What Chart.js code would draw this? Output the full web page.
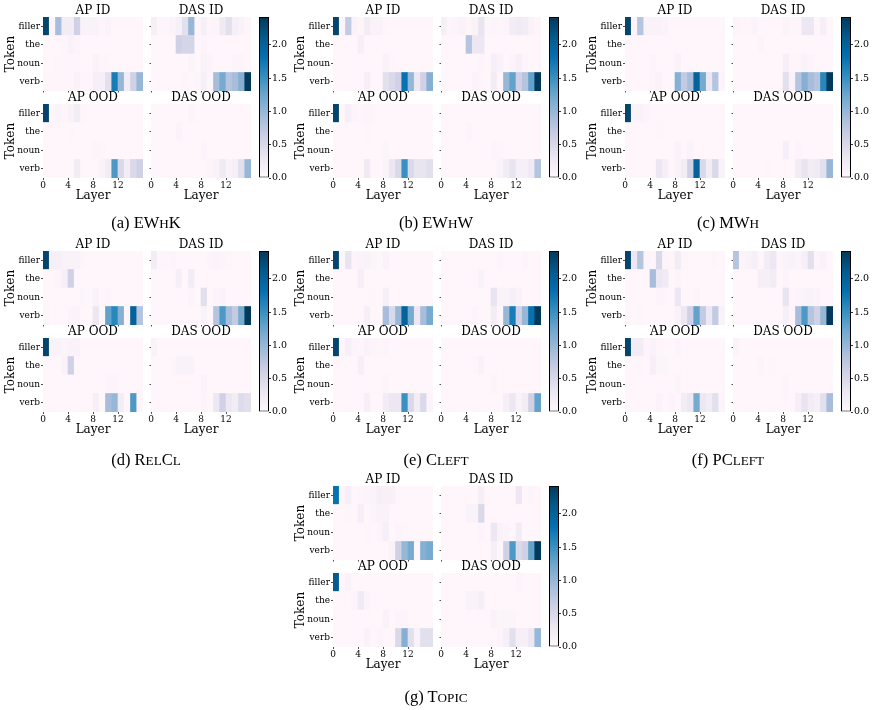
<!DOCTYPE html>
<html>
<head>
<meta charset="utf-8">
<script src="https://cdn.jsdelivr.net/npm/chart.js@4.4.1/dist/chart.umd.min.js"></script>
<style>
  body { margin: 0; background: #fff; width: 876px; height: 710px; overflow: hidden; position: relative; }
  canvas { position: absolute; }
  .cap { position: absolute; width: 292px; text-align: center; font-family: 'Liberation Serif', serif; font-size: 16.5px; line-height: 20px; color: #000; }
  .sc { font-size: 0.8em; text-transform: uppercase; }
</style>
</head>
<body>
<script>
// Interchange-intervention heatmaps (token x layer), PuBu colour scale
const layers = [0, 1, 2, 3, 4, 5, 6, 7, 8, 9, 10, 11, 12, 13, 14, 15];
const tokens = ["filler", "the", "noun", "verb"];
const layerTicks = [0, 4, 8, 12];
const cbarTicks = [0, 0.5, 1.0, 1.5, 2.0];
const mapTitles = ["AP ID", "DAS ID", "AP OOD", "DAS OOD"];
const VMAX = 2.42;

// (a) EWhK
const ewhkApId = [
  [2.30,0.05,0.90,0.20,0.20,0.60,0.10,0.10,0.10,0.03,0.08,0.02,0.02,0.02,0.02,0.02],
  [0.02,0.02,0.02,0.03,0.10,0.05,0.02,0.02,0.02,0.02,0.02,0.02,0.02,0.02,0.02,0.02],
  [0.02,0.02,0.03,0.03,0.03,0.03,0.02,0.02,0.10,0.03,0.03,0.02,0.02,0.02,0.02,0.02],
  [0.03,0.03,0.03,0.03,0.03,0.10,0.03,0.03,0.15,0.15,0.40,1.70,1.00,0.20,0.60,1.00]
];
const ewhkDasId = [
  [0.15,0.03,0.03,0.08,0.15,0.40,1.00,0.03,0.15,0.03,0.05,0.25,0.40,0.15,0.10,0.03],
  [0.02,0.02,0.02,0.02,0.60,0.55,0.55,0.02,0.05,0.02,0.02,0.02,0.02,0.02,0.02,0.02],
  [0.02,0.02,0.02,0.02,0.02,0.02,0.06,0.02,0.10,0.05,0.02,0.02,0.02,0.05,0.05,0.02],
  [0.02,0.02,0.02,0.02,0.02,0.03,0.02,0.03,0.15,0.03,0.90,1.20,0.80,0.90,1.10,2.40]
];
const ewhkApOod = [
  [2.30,0.02,0.08,0.03,0.10,0.20,0.03,0.02,0.02,0.02,0.02,0.02,0.02,0.02,0.02,0.02],
  [0.02,0.02,0.02,0.02,0.04,0.02,0.02,0.02,0.02,0.02,0.02,0.02,0.02,0.02,0.02,0.02],
  [0.02,0.02,0.02,0.02,0.02,0.02,0.02,0.02,0.06,0.03,0.02,0.02,0.02,0.02,0.02,0.02],
  [0.02,0.02,0.02,0.02,0.02,0.20,0.02,0.02,0.02,0.10,0.20,1.40,0.50,0.20,0.50,0.60]
];
const ewhkDasOod = [
  [0.02,0.02,0.02,0.02,0.02,0.02,0.06,0.02,0.02,0.02,0.02,0.02,0.02,0.02,0.02,0.02],
  [0.02,0.02,0.02,0.02,0.08,0.02,0.02,0.02,0.02,0.02,0.02,0.02,0.02,0.02,0.02,0.02],
  [0.02,0.02,0.02,0.02,0.02,0.02,0.02,0.02,0.05,0.02,0.02,0.02,0.02,0.02,0.02,0.02],
  [0.02,0.02,0.02,0.02,0.02,0.02,0.02,0.02,0.02,0.05,0.10,0.25,0.10,0.15,0.40,1.00]
];

// (b) EWhW
const ewhwApId = [
  [2.30,0.05,0.70,0.10,0.03,0.20,0.10,0.10,0.03,0.02,0.02,0.02,0.02,0.02,0.02,0.02],
  [0.02,0.02,0.02,0.02,0.15,0.02,0.02,0.02,0.02,0.02,0.02,0.02,0.02,0.02,0.02,0.02],
  [0.02,0.02,0.02,0.02,0.02,0.02,0.02,0.02,0.10,0.03,0.02,0.02,0.02,0.02,0.02,0.02],
  [0.02,0.02,0.02,0.02,0.02,0.15,0.02,0.02,0.40,0.50,0.60,1.80,1.00,0.30,0.60,1.10]
];
const ewhwDasId = [
  [0.15,0.03,0.05,0.10,0.03,0.10,0.35,0.03,0.05,0.03,0.05,0.20,0.25,0.20,0.10,0.03],
  [0.02,0.02,0.02,0.02,0.80,0.30,0.30,0.02,0.02,0.02,0.02,0.02,0.02,0.02,0.02,0.02],
  [0.02,0.02,0.02,0.02,0.02,0.02,0.05,0.02,0.15,0.10,0.02,0.05,0.15,0.05,0.02,0.02],
  [0.02,0.02,0.02,0.02,0.02,0.08,0.03,0.02,0.20,0.03,1.00,1.30,0.60,0.80,1.30,2.40]
];
const ewhwApOod = [
  [2.30,0.02,0.15,0.05,0.03,0.06,0.03,0.02,0.02,0.02,0.02,0.02,0.02,0.02,0.02,0.02],
  [0.02,0.02,0.02,0.02,0.02,0.03,0.02,0.02,0.02,0.02,0.02,0.02,0.02,0.02,0.02,0.02],
  [0.02,0.02,0.02,0.02,0.02,0.02,0.02,0.02,0.06,0.02,0.02,0.02,0.02,0.02,0.02,0.02],
  [0.02,0.02,0.02,0.02,0.02,0.25,0.02,0.02,0.08,0.30,0.50,1.50,0.50,0.35,0.35,0.40]
];
const ewhwDasOod = [
  [0.02,0.02,0.02,0.02,0.02,0.02,0.02,0.02,0.02,0.02,0.02,0.02,0.02,0.02,0.02,0.02],
  [0.02,0.02,0.02,0.02,0.05,0.02,0.02,0.02,0.02,0.02,0.02,0.02,0.02,0.02,0.02,0.02],
  [0.02,0.02,0.02,0.02,0.02,0.02,0.02,0.02,0.05,0.03,0.02,0.02,0.02,0.02,0.02,0.02],
  [0.02,0.02,0.02,0.02,0.02,0.02,0.02,0.02,0.02,0.08,0.20,0.35,0.15,0.15,0.25,0.80]
];

// (c) MWh
const mwhApId = [
  [2.30,0.05,0.80,0.10,0.10,0.10,0.08,0.02,0.02,0.02,0.02,0.02,0.02,0.02,0.02,0.02],
  [0.02,0.02,0.02,0.02,0.02,0.02,0.02,0.02,0.02,0.02,0.02,0.02,0.02,0.02,0.02,0.02],
  [0.02,0.02,0.02,0.02,0.05,0.02,0.02,0.02,0.10,0.02,0.02,0.02,0.02,0.02,0.02,0.02],
  [0.02,0.02,0.02,0.02,0.06,0.10,0.02,0.02,1.10,0.70,0.90,2.00,1.20,0.30,0.80,0.05]
];
const mwhDasId = [
  [0.05,0.03,0.03,0.08,0.02,0.02,0.02,0.02,0.08,0.03,0.03,0.30,0.30,0.03,0.15,0.02],
  [0.02,0.02,0.02,0.02,0.06,0.02,0.02,0.02,0.02,0.02,0.02,0.02,0.02,0.02,0.02,0.02],
  [0.02,0.02,0.02,0.02,0.02,0.02,0.02,0.02,0.15,0.03,0.03,0.10,0.05,0.02,0.02,0.02],
  [0.02,0.02,0.02,0.02,0.02,0.02,0.02,0.02,0.40,0.10,0.80,1.10,0.90,0.80,1.60,2.40]
];
const mwhApOod = [
  [2.30,0.08,0.10,0.05,0.02,0.02,0.02,0.02,0.02,0.02,0.02,0.02,0.02,0.02,0.02,0.02],
  [0.02,0.02,0.02,0.02,0.02,0.03,0.02,0.02,0.02,0.02,0.02,0.02,0.02,0.02,0.02,0.02],
  [0.02,0.02,0.02,0.02,0.02,0.02,0.02,0.02,0.10,0.02,0.08,0.02,0.02,0.02,0.02,0.02],
  [0.02,0.02,0.02,0.02,0.02,0.30,0.15,0.02,0.10,0.20,0.60,2.00,0.50,0.20,0.50,0.10]
];
const mwhDasOod = [
  [0.02,0.02,0.02,0.02,0.02,0.02,0.02,0.02,0.02,0.02,0.02,0.02,0.02,0.02,0.02,0.02],
  [0.02,0.02,0.02,0.02,0.02,0.02,0.02,0.02,0.02,0.02,0.02,0.02,0.02,0.02,0.02,0.02],
  [0.02,0.02,0.02,0.02,0.02,0.02,0.02,0.02,0.15,0.02,0.05,0.02,0.02,0.02,0.02,0.02],
  [0.02,0.02,0.02,0.02,0.02,0.03,0.02,0.02,0.02,0.02,0.20,0.35,0.20,0.25,0.40,1.00]
];

// (d) RelCl
const relclApId = [
  [2.30,0.15,0.15,0.10,0.10,0.10,0.03,0.02,0.02,0.02,0.02,0.02,0.02,0.02,0.02,0.02],
  [0.02,0.02,0.05,0.15,0.60,0.02,0.02,0.02,0.02,0.02,0.02,0.02,0.02,0.02,0.02,0.02],
  [0.02,0.02,0.02,0.02,0.02,0.02,0.04,0.02,0.10,0.02,0.05,0.02,0.02,0.02,0.02,0.02],
  [0.04,0.02,0.02,0.02,0.05,0.08,0.02,0.02,0.30,0.02,1.30,1.60,1.10,0.03,2.00,0.80]
];
const relclDasId = [
  [0.20,0.03,0.03,0.05,0.02,0.02,0.02,0.02,0.02,0.05,0.08,0.05,0.03,0.02,0.02,0.02],
  [0.02,0.02,0.02,0.02,0.15,0.02,0.20,0.02,0.02,0.02,0.02,0.02,0.02,0.02,0.02,0.02],
  [0.02,0.02,0.02,0.02,0.02,0.02,0.05,0.02,0.40,0.02,0.05,0.08,0.02,0.02,0.02,0.02],
  [0.02,0.02,0.02,0.02,0.02,0.02,0.02,0.02,0.10,0.02,0.80,1.40,0.90,0.70,1.20,2.40]
];
const relclApOod = [
  [2.30,0.10,0.10,0.05,0.10,0.10,0.02,0.02,0.02,0.02,0.02,0.02,0.02,0.02,0.02,0.02],
  [0.02,0.02,0.02,0.10,0.60,0.02,0.02,0.02,0.02,0.02,0.02,0.02,0.02,0.02,0.02,0.02],
  [0.02,0.02,0.02,0.02,0.02,0.02,0.02,0.02,0.02,0.02,0.05,0.05,0.02,0.02,0.02,0.02],
  [0.02,0.02,0.02,0.02,0.02,0.02,0.02,0.02,0.15,0.02,0.90,1.00,0.20,0.02,1.40,0.03]
];
const relclDasOod = [
  [0.10,0.02,0.02,0.02,0.02,0.02,0.02,0.02,0.02,0.02,0.02,0.02,0.02,0.02,0.02,0.02],
  [0.02,0.02,0.02,0.03,0.10,0.10,0.10,0.02,0.02,0.02,0.02,0.02,0.02,0.02,0.02,0.02],
  [0.02,0.02,0.02,0.02,0.02,0.02,0.02,0.02,0.08,0.02,0.02,0.02,0.02,0.02,0.02,0.02],
  [0.02,0.02,0.02,0.02,0.02,0.02,0.02,0.02,0.05,0.02,0.30,0.60,0.30,0.20,0.45,0.40]
];

// (e) Cleft
const cleftApId = [
  [2.30,0.03,0.35,0.05,0.08,0.10,0.06,0.02,0.10,0.02,0.02,0.02,0.02,0.02,0.02,0.02],
  [0.02,0.02,0.02,0.02,0.15,0.02,0.02,0.02,0.02,0.02,0.02,0.02,0.02,0.02,0.02,0.02],
  [0.02,0.02,0.02,0.02,0.02,0.02,0.04,0.02,0.15,0.02,0.02,0.02,0.02,0.02,0.02,0.02],
  [0.02,0.02,0.02,0.02,0.02,0.15,0.02,0.02,0.90,0.50,1.00,2.00,1.20,0.30,0.90,1.20]
];
const cleftDasId = [
  [0.02,0.02,0.02,0.02,0.02,0.02,0.02,0.02,0.02,0.05,0.02,0.02,0.02,0.05,0.02,0.02],
  [0.02,0.02,0.02,0.02,0.02,0.03,0.10,0.02,0.02,0.02,0.02,0.02,0.02,0.02,0.02,0.02],
  [0.02,0.02,0.02,0.02,0.02,0.02,0.02,0.02,0.35,0.10,0.10,0.15,0.10,0.02,0.02,0.02],
  [0.02,0.02,0.02,0.02,0.02,0.05,0.02,0.02,0.20,0.03,1.00,1.70,0.60,1.00,1.80,2.40]
];
const cleftApOod = [
  [2.30,0.03,0.15,0.05,0.03,0.10,0.05,0.03,0.05,0.02,0.02,0.02,0.02,0.02,0.02,0.02],
  [0.02,0.02,0.02,0.02,0.15,0.02,0.02,0.02,0.02,0.02,0.02,0.02,0.02,0.02,0.02,0.02],
  [0.02,0.02,0.02,0.02,0.02,0.02,0.02,0.02,0.06,0.02,0.02,0.02,0.02,0.02,0.02,0.02],
  [0.02,0.02,0.02,0.02,0.02,0.15,0.02,0.02,0.20,0.30,0.30,1.50,0.50,0.20,0.50,0.05]
];
const cleftDasOod = [
  [0.02,0.02,0.02,0.02,0.02,0.02,0.02,0.02,0.02,0.02,0.02,0.02,0.02,0.02,0.02,0.02],
  [0.02,0.02,0.02,0.02,0.02,0.03,0.10,0.02,0.02,0.02,0.02,0.02,0.02,0.02,0.02,0.02],
  [0.02,0.02,0.02,0.02,0.02,0.02,0.02,0.02,0.06,0.02,0.02,0.02,0.02,0.02,0.02,0.02],
  [0.02,0.02,0.02,0.02,0.02,0.02,0.02,0.02,0.02,0.02,0.15,0.30,0.10,0.20,0.60,1.30]
];

// (f) PCleft
const pcleftApId = [
  [2.30,0.30,0.80,0.05,0.03,0.50,0.05,0.03,0.20,0.03,0.02,0.02,0.02,0.02,0.03,0.02],
  [0.02,0.02,0.02,0.02,0.90,0.30,0.25,0.02,0.06,0.02,0.02,0.02,0.02,0.02,0.02,0.02],
  [0.02,0.02,0.02,0.02,0.02,0.06,0.03,0.02,0.30,0.02,0.03,0.06,0.02,0.02,0.02,0.02],
  [0.04,0.02,0.04,0.02,0.02,0.02,0.02,0.02,0.10,0.30,0.60,1.30,0.70,0.30,0.70,0.10]
];
const pcleftDasId = [
  [0.80,0.05,0.10,0.15,0.03,0.20,0.30,0.03,0.08,0.10,0.05,0.15,0.40,0.05,0.10,0.02],
  [0.02,0.02,0.02,0.02,0.15,0.15,0.20,0.02,0.05,0.02,0.02,0.02,0.02,0.02,0.02,0.02],
  [0.02,0.02,0.02,0.02,0.02,0.02,0.02,0.02,0.35,0.03,0.05,0.08,0.10,0.08,0.02,0.02],
  [0.02,0.02,0.02,0.02,0.02,0.02,0.02,0.02,0.15,0.05,0.90,1.40,0.80,0.60,1.00,2.40]
];
const pcleftApOod = [
  [2.30,0.20,0.20,0.05,0.10,0.03,0.02,0.02,0.05,0.02,0.02,0.02,0.02,0.02,0.02,0.02],
  [0.02,0.02,0.03,0.02,0.15,0.06,0.06,0.02,0.02,0.02,0.02,0.02,0.02,0.02,0.02,0.02],
  [0.02,0.02,0.02,0.02,0.02,0.02,0.02,0.02,0.06,0.02,0.02,0.02,0.02,0.02,0.02,0.02],
  [0.02,0.02,0.02,0.02,0.02,0.08,0.02,0.05,0.02,0.20,0.30,1.20,0.30,0.20,0.40,0.05]
];
const pcleftDasOod = [
  [0.08,0.02,0.02,0.02,0.02,0.02,0.02,0.02,0.02,0.02,0.02,0.02,0.02,0.02,0.02,0.02],
  [0.02,0.02,0.02,0.02,0.06,0.02,0.03,0.02,0.02,0.02,0.02,0.02,0.02,0.02,0.02,0.02],
  [0.02,0.02,0.02,0.02,0.02,0.02,0.02,0.02,0.06,0.02,0.02,0.02,0.02,0.02,0.02,0.02],
  [0.02,0.02,0.02,0.02,0.02,0.02,0.02,0.02,0.03,0.02,0.15,0.35,0.20,0.15,0.40,0.90]
];

// (g) Topic
const topicApId = [
  [1.80,0.05,0.15,0.02,0.03,0.05,0.08,0.15,0.12,0.12,0.03,0.02,0.02,0.02,0.02,0.02],
  [0.02,0.02,0.04,0.02,0.15,0.02,0.05,0.10,0.10,0.02,0.02,0.02,0.02,0.02,0.02,0.02],
  [0.02,0.02,0.02,0.02,0.02,0.04,0.02,0.05,0.15,0.02,0.05,0.04,0.02,0.02,0.02,0.02],
  [0.02,0.02,0.02,0.02,0.02,0.02,0.02,0.02,0.02,0.10,0.60,1.00,1.20,0.03,1.10,1.20]
];
const topicDasId = [
  [0.02,0.02,0.02,0.02,0.02,0.02,0.15,0.02,0.02,0.02,0.02,0.02,0.30,0.02,0.05,0.02],
  [0.02,0.02,0.02,0.02,0.10,0.10,0.50,0.02,0.02,0.02,0.02,0.02,0.02,0.02,0.02,0.02],
  [0.02,0.02,0.02,0.02,0.02,0.02,0.05,0.02,0.30,0.10,0.05,0.02,0.20,0.02,0.02,0.02],
  [0.02,0.02,0.02,0.02,0.02,0.02,0.02,0.02,0.15,0.03,0.60,1.40,0.50,0.60,1.30,2.40]
];
const topicApOod = [
  [2.10,0.03,0.10,0.02,0.02,0.02,0.02,0.02,0.02,0.02,0.02,0.02,0.02,0.02,0.02,0.02],
  [0.02,0.02,0.02,0.05,0.25,0.08,0.02,0.02,0.02,0.02,0.02,0.02,0.02,0.02,0.02,0.02],
  [0.02,0.02,0.02,0.02,0.02,0.02,0.02,0.02,0.10,0.02,0.05,0.05,0.02,0.02,0.02,0.02],
  [0.02,0.02,0.02,0.02,0.02,0.10,0.02,0.05,0.02,0.02,0.50,1.10,0.40,0.10,0.40,0.40]
];
const topicDasOod = [
  [0.02,0.02,0.02,0.02,0.02,0.02,0.02,0.02,0.02,0.02,0.02,0.02,0.05,0.02,0.02,0.02],
  [0.02,0.02,0.02,0.02,0.10,0.10,0.15,0.02,0.02,0.02,0.02,0.02,0.02,0.02,0.02,0.02],
  [0.02,0.02,0.02,0.02,0.02,0.02,0.02,0.02,0.10,0.06,0.06,0.06,0.02,0.02,0.02,0.02],
  [0.02,0.02,0.02,0.02,0.02,0.02,0.02,0.02,0.02,0.05,0.15,0.40,0.15,0.15,0.30,1.00]
];

// sub-figure placement
const panels = [
  { cap: '(a) EW<span class="sc">h</span>K', ox: 0, oy: 0, capY: 223, maps: [ewhkApId, ewhkDasId, ewhkApOod, ewhkDasOod] },
  { cap: '(b) EW<span class="sc">h</span>W', ox: 290, oy: 0, capY: 223, maps: [ewhwApId, ewhwDasId, ewhwApOod, ewhwDasOod] },
  { cap: '(c) MW<span class="sc">h</span>', ox: 582, oy: 0, capY: 223, maps: [mwhApId, mwhDasId, mwhApOod, mwhDasOod] },
  { cap: '(d) R<span class="sc">el</span>C<span class="sc">l</span>', ox: 0, oy: 234, capY: 460, maps: [relclApId, relclDasId, relclApOod, relclDasOod] },
  { cap: '(e) C<span class="sc">left</span>', ox: 290, oy: 234, capY: 460, maps: [cleftApId, cleftDasId, cleftApOod, cleftDasOod] },
  { cap: '(f) PC<span class="sc">left</span>', ox: 582, oy: 234, capY: 460, maps: [pcleftApId, pcleftDasId, pcleftApOod, pcleftDasOod] },
  { cap: '(g) T<span class="sc">opic</span>', ox: 290, oy: 469, capY: 697, maps: [topicApId, topicDasId, topicApOod, topicDasOod] }
];

const MAP_W = 100, MAP_H = 74;
const PUBU = ["#fff7fb", "#ece7f2", "#d0d1e6", "#a6bddb", "#74a9cf", "#3690c0", "#0570b0", "#045a8d", "#023858"];

Chart.defaults.font.family = "'DejaVu Serif', serif";
Chart.defaults.color = "#000";

function hexRgb(h) {
  return [1, 3, 5].map(i => parseInt(h.slice(i, i + 2), 16));
}

function pubu(v) {
  const t = Math.max(0, Math.min(1, v / VMAX)) * (PUBU.length - 1);
  const i = Math.min(Math.floor(t), PUBU.length - 2);
  const f = t - i;
  const a = hexRgb(PUBU[i]), b = hexRgb(PUBU[i + 1]);
  const c = a.map((x, k) => Math.round(x + (b[k] - x) * f));
  return `rgb(${c[0]},${c[1]},${c[2]})`;
}

function addCanvas(left, top, w, h) {
  const cv = document.createElement("canvas");
  cv.width = w;
  cv.height = h;
  cv.style.left = left + "px";
  cv.style.top = top + "px";
  document.body.appendChild(cv);
  return cv;
}

function heatmap(values, title, x, y, showY, showX) {
  const padL = showY ? 43 : 8;
  const padT = 15;
  const padB = showX ? 26 : 8;
  const cv = addCanvas(x - padL, y - padT, padL + MAP_W, padT + MAP_H + padB);

  const points = [], colors = [];
  values.forEach((row, r) => {
    row.forEach((v, c) => {
      points.push({ x: layers[c] + 0.5, y: [r, r + 1] });
      colors.push(pubu(v));
    });
  });

  // tick marks only (no labels) on inner axes, as in the figure
  const tickLen = 1.5;

  new Chart(cv, {
    type: "bar",
    data: {
      datasets: [{
        data: points,
        backgroundColor: colors,
        borderWidth: 0,
        barPercentage: 1,
        categoryPercentage: 1
      }]
    },
    options: {
      responsive: false,
      animation: false,
      events: [],
      layout: { padding: 0 },
      plugins: {
        legend: { display: false },
        tooltip: { enabled: false },
        title: {
          display: true,
          fullSize: false,
          text: title,
          font: { size: 12, weight: "normal", lineHeight: 1 },
          padding: { top: 3, bottom: 0 },
          color: "#000"
        }
      },
      scales: {
        x: {
          type: "linear",
          min: 0,
          max: 16,
          offset: false,
          border: { display: false },
          grid: { offset: false, drawOnChartArea: false, tickLength: showX ? 2 : tickLen, color: "#222", lineWidth: 0.8 },
          afterBuildTicks: s => { s.ticks = layerTicks.map(v => ({ value: v })); },
          afterFit: s => { s.height = padB; },
          ticks: { display: showX, font: { size: 9 }, padding: 0, maxRotation: 0, autoSkip: false },
          title: { display: showX, text: "Layer", font: { size: 12 }, padding: { top: 0, bottom: 1 } }
        },
        y: {
          type: "linear",
          min: 0,
          max: 4,
          reverse: true,
          border: { display: false },
          grid: { drawOnChartArea: false, tickLength: showY ? 2 : tickLen, color: "#222", lineWidth: 0.8 },
          afterBuildTicks: s => { s.ticks = tokens.map((t, i) => ({ value: i + 0.5 })); },
          afterFit: s => { s.width = padL; },
          ticks: { display: showY, font: { size: 9 }, padding: 1, callback: (v, i) => tokens[i] },
          title: { display: showY, text: "Token", font: { size: 12 }, padding: { top: 4, bottom: 0 } }
        }
      }
    }
  });
}

function colorbar(x, y, h) {
  const padT = 8, padB = 8, axisW = 28, cbW = 10;
  const cv = addCanvas(x, y - padT, cbW + axisW, h + padT + padB);
  new Chart(cv, {
    type: "bar",
    data: {
      labels: [""],
      datasets: [{
        data: [[0, VMAX]],
        backgroundColor: ctx => {
          const area = ctx.chart.chartArea;
          if (!area) return PUBU[0];
          const g = ctx.chart.ctx.createLinearGradient(0, area.bottom, 0, area.top);
          PUBU.forEach((c, i) => g.addColorStop(i / (PUBU.length - 1), c));
          return g;
        },
        borderColor: "#000",
        borderWidth: 1,
        borderSkipped: false,
        inflateAmount: 0,
        barPercentage: 1,
        categoryPercentage: 1
      }]
    },
    options: {
      responsive: false,
      animation: false,
      events: [],
      layout: { padding: { top: padT, bottom: padB, left: 0, right: 0 } },
      plugins: { legend: { display: false }, tooltip: { enabled: false } },
      scales: {
        x: { display: false, offset: true },
        y: {
          position: "right",
          min: 0,
          max: VMAX,
          border: { display: false },
          grid: { drawOnChartArea: false, tickLength: 2, color: "#000", lineWidth: 0.8 },
          afterBuildTicks: s => { s.ticks = cbarTicks.map(v => ({ value: v })); },
          afterFit: s => { s.width = axisW; },
          ticks: { font: { size: 9.5 }, padding: 1, callback: v => v.toFixed(1) }
        }
      }
    }
  });
}

panels.forEach(p => {
  const topY = p.oy + 17, botY = p.oy + 104;
  const leftX = p.ox + 43, rightX = p.ox + 151;
  heatmap(p.maps[0], mapTitles[0], leftX, topY, true, false);
  heatmap(p.maps[1], mapTitles[1], rightX, topY, false, false);
  heatmap(p.maps[2], mapTitles[2], leftX, botY, true, true);
  heatmap(p.maps[3], mapTitles[3], rightX, botY, false, true);
  colorbar(p.ox + 259, topY, botY + MAP_H - topY);

  const cap = document.createElement("div");
  cap.className = "cap";
  cap.style.left = p.ox + "px";
  cap.style.top = (p.capY - 10) + "px";
  cap.innerHTML = p.cap;
  document.body.appendChild(cap);
});
</script>
</body>
</html>
